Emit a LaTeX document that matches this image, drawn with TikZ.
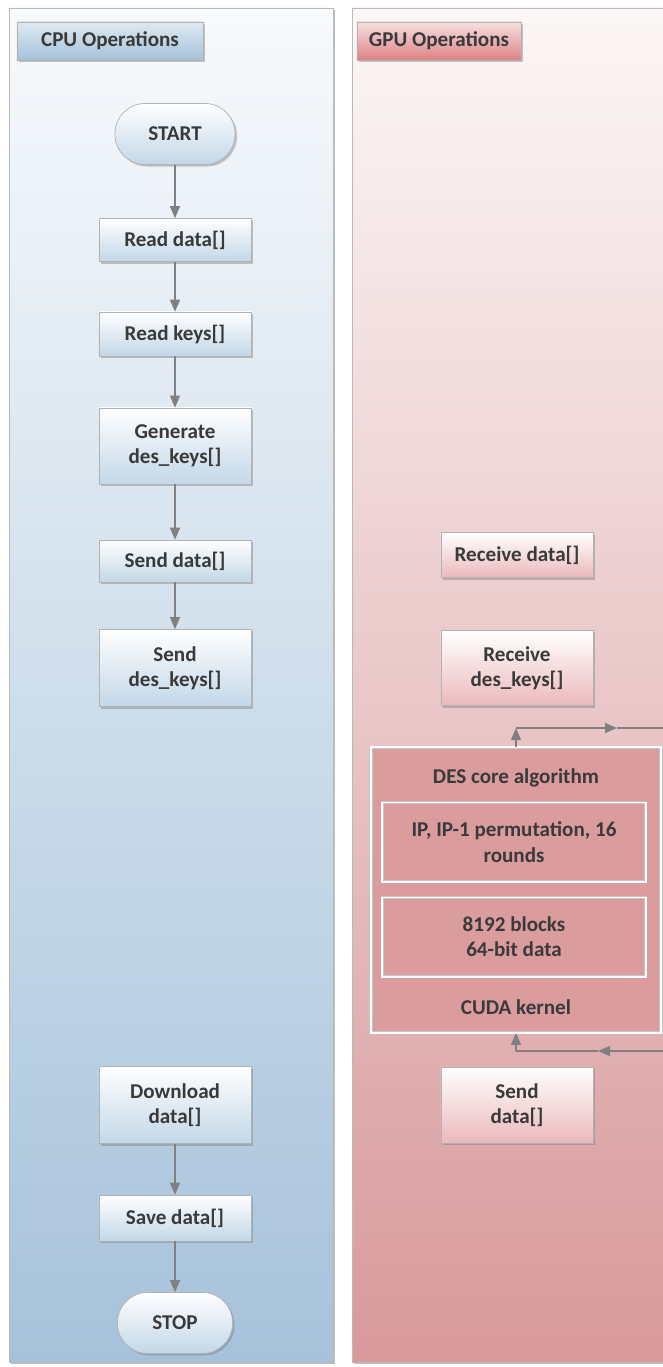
\documentclass[tikz,border=0pt]{standalone}
\usepackage{fontspec}
\setmainfont{Carlito}
\usetikzlibrary{shadows,arrows.meta}
\definecolor{cpulane}{HTML}{A6C2DA}
\definecolor{gpulane}{HTML}{D8999B}
\definecolor{cpufill}{HTML}{C2D7E8}
\definecolor{gpufill}{HTML}{EBB9BB}
\definecolor{desfill}{HTML}{DB9C9D}
\definecolor{txtgray}{HTML}{3A3A3A}
\definecolor{arrgray}{HTML}{808080}

\tikzset{
  lane/.style={draw=gray!55, line width=0.5pt,
    drop shadow={shadow xshift=0.06cm, shadow yshift=-0.04cm, fill=gray, opacity=0.5}},
  lbl/.style={font=\fontsize{15}{18}\selectfont\bfseries, text=txtgray, align=center},
  cpubox/.style={lbl, draw=gray!60, line width=0.5pt, top color=white, bottom color=cpufill,
    minimum width=3.8cm, drop shadow={shadow xshift=0.05cm, shadow yshift=-0.05cm, fill=gray, opacity=0.45}},
  gpubox/.style={cpubox, bottom color=gpufill},
  ends/.style={cpubox, rounded corners=0.75cm, minimum width=3cm, minimum height=1.525cm},
  cpuhead/.style={cpubox, top color=cpufill!55, bottom color=cpulane, minimum width=4.65cm, minimum height=0.95cm},
  gpuhead/.style={cpuhead, top color=gpufill!45, bottom color=gpulane!85!red, minimum width=4.1cm},
  desbox/.style={lbl, draw=gray!45, double=white, double distance=1.4pt, fill=desfill,
    drop shadow={shadow xshift=0.04cm, shadow yshift=-0.04cm, fill=gray, opacity=0.4}},
  link/.style={draw=arrgray, line width=0.9pt},
  flow/.style={link, -{Triangle[width=0.25cm,length=0.3cm]}}
}

\begin{document}
\begin{tikzpicture}[x=0.025cm,y=-0.025cm]
\useasboundingbox (0,0) rectangle (663,1367);
\clip (0,0) rectangle (663,1367);
\fill[white] (0,0) rectangle (663,1367);

% lanes
\path[lane, top color=cpulane!8, bottom color=cpulane] (9,8) rectangle (333,1362);
\path[lane, top color=gpulane!8, bottom color=gpulane] (352,8) rectangle (672,1362);

\node[cpuhead] (hcpu) at (110,41) {CPU Operations};
\node[gpuhead] (hgpu) at (439,41) {GPU Operations};

%------------------------------------------------ CPU
\node[ends] (start) at (175,134) {START};
\node[cpubox, minimum height=1.075cm] (rdata) at (175,240) {Read data[]};
\node[cpubox, minimum height=1.1cm] (rkeys) at (175,334) {Read keys[]};
\node[cpubox, minimum height=1.9cm] (gen) at (175,446) {Generate\\des\_keys[]};
\node[cpubox, minimum height=1.05cm] (sdata) at (175,561) {Send data[]};
\node[cpubox, minimum height=1.925cm] (skeys) at (175,668) {Send\\des\_keys[]};
\node[cpubox, minimum height=1.925cm] (dload) at (175,1105) {Download\\data[]};
\node[cpubox, minimum height=1.15cm] (save) at (175,1218) {Save data[]};
\node[ends, minimum width=2.875cm] (stop) at (175,1323) {STOP};

\draw[flow] (start) -- (rdata);
\draw[flow] (rdata) -- (rkeys);
\draw[flow] (rkeys) -- (gen);
\draw[flow] (gen) -- (sdata);
\draw[flow] (sdata) -- (skeys);
\draw[flow] (dload) -- (save);
\draw[flow] (save) -- (stop);

%------------------------------------------------ GPU
\node[gpubox, minimum height=1.125cm] (rcvdata) at (517,555) {Receive data[]};
\node[gpubox, minimum height=1.875cm] (rcvkeys) at (517,668) {Receive\\des\_keys[]};

\node[desbox, minimum width=7.25cm, minimum height=7.125cm] (des) at (516,890) {};
\node[lbl] (destitle) at (516,778) {DES core algorithm};
\node[desbox, minimum width=6.575cm, minimum height=1.975cm] (ipbox) at (514,842) {IP, IP-1 permutation, 16\\rounds};
\node[desbox, minimum width=6.575cm, minimum height=1.975cm] (blkbox) at (514,937) {8192 blocks\\64-bit data};
\node[lbl] (cuda) at (516,1007) {CUDA kernel};

\node[gpubox, minimum height=1.9cm] (gsend) at (517,1105) {Send\\data[]};

\coordinate (topr) at (663,728);
\coordinate (topm) at (617,728);
\coordinate (botr) at (663,1051);
\coordinate (botm) at (598,1051);
\draw[flow] (des.north) -- (des.north |- topr);
\draw[flow] (des.north |- topr) -- (topm);
\draw[link] (topm) -- (topr);
\draw[flow] (botr) -- (botm);
\draw[link] (botm) -- (des.south |- botr);
\draw[flow] (des.south |- botr) -- (des.south);
\end{tikzpicture}
\end{document}
